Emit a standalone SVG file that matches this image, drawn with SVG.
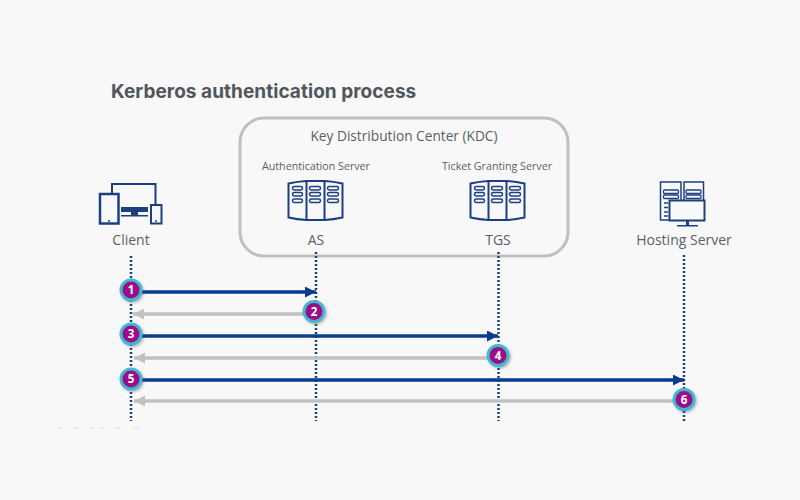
<svg xmlns="http://www.w3.org/2000/svg" width="800" height="500" viewBox="0 0 800 500">
<style>
text{font-family:"Open Sans","Noto Sans",sans-serif;fill:#5a5f63;text-anchor:middle}
.title{font-family:"Inter","Noto Sans",sans-serif;font-weight:700;font-size:19px;fill:#50565a;text-anchor:start;letter-spacing:.05px}
.l{font-size:14px}.s{font-size:10.7px}.k{font-size:13.700px}
.ic{fill:none;stroke:#1c3f80;stroke-width:2}
.ic2{fill:none;stroke:#1c3f80;stroke-width:1.5}
.life{stroke:#1f3f86;stroke-width:2.500;stroke-dasharray:2 2;fill:none}
.req{stroke:#0b3b8f;stroke-width:3.500;fill:none;marker-end:url(#ab)}
.res{stroke:#c1c1c1;stroke-width:3.500;fill:none;marker-end:url(#ag)}
.b{fill:#9c0f8a;stroke:#3fb8d0;stroke-width:3;filter:url(#sh)}
.n{font-family:"Open Sans",sans-serif;font-size:11.500px;font-weight:700;fill:#fff}
.faint{fill:#e4e4e4}
</style>
<defs>
<marker id="ab" markerUnits="userSpaceOnUse" markerWidth="12" markerHeight="12" refX="11" refY="5.500" orient="auto"><path d="M0 0L11 5.500L0 11z" fill="#0b3b8f"/></marker>
<marker id="ag" markerUnits="userSpaceOnUse" markerWidth="12" markerHeight="12" refX="11" refY="5.500" orient="auto"><path d="M0 0L11 5.500L0 11z" fill="#c1c1c1"/></marker>
<filter id="sh" x="-30%" y="-30%" width="170%" height="170%"><feDropShadow dx="1.500" dy="1.500" stdDeviation="1.300" flood-color="#555" flood-opacity=".4"/></filter>
<g id="rack">
<path class="ic" d="M-27 -17Q-18 -19 -9 -19.500H9Q18 -19 27 -17V17Q18 19 9 19.500H-9Q-18 19 -27 17Z"/>
<path class="ic" d="M-9 -19.500V19.500M9 -19.500V19.500"/>
<g class="ic2">
<rect x="-23" y="-14" width="10" height="3.500" rx="1.700"/><rect x="-23" y="-8" width="10" height="3.500" rx="1.700"/><rect x="-23" y="-1.500" width="10" height="3.500" rx="1.700"/>
<rect x="-6" y="-14" width="11" height="3.500" rx="1.700"/><rect x="-6" y="-8" width="11" height="3.500" rx="1.700"/><rect x="-6" y="-1.500" width="11" height="3.500" rx="1.700"/>
<rect x="12" y="-14" width="11" height="3.500" rx="1.700"/><rect x="12" y="-8" width="11" height="3.500" rx="1.700"/><rect x="12" y="-1.500" width="11" height="3.500" rx="1.700"/>
</g></g>
</defs>
<rect width="800" height="500" fill="#f8f8f8"/>
<text class="title" x="111" y="98">Kerberos authentication process</text>
<g id="kdc"><rect x="240" y="118" width="328" height="138" rx="24" fill="none" stroke="#bfbfbf" stroke-width="3"/><text class="k" x="404" y="141">Key Distribution Center (KDC)</text></g>
<g id="client"><path class="ic" d="M112 193V184H155.500V204"/><rect x="100" y="194" width="18.500" height="29.500" fill="#f8f8f8" stroke="#1c3f80" stroke-width="2.500"/><rect x="151" y="205" width="10.500" height="18.500" fill="#f8f8f8" stroke="#1c3f80" stroke-width="2"/><circle cx="109" cy="221" r="1" fill="#1c3f80"/><circle cx="156" cy="221" r="1" fill="#1c3f80"/><rect x="121" y="207" width="27" height="5" fill="#1c3f80"/><path d="M131 212h7v3h10v1.500h-27v-1.500h10z" fill="#1c3f80"/><text class="l" x="131" y="245">Client</text></g>
<g id="as"><text class="s" x="316" y="170">Authentication Server</text><use href="#rack" x="315.500" y="200.500"/><text class="l" x="316" y="245">AS</text></g>
<g id="tgs"><text class="s" x="497" y="170">Ticket Granting Server</text><use href="#rack" x="497.500" y="200.500"/><text class="l" x="498" y="245">TGS</text></g>
<g id="hosting"><path class="ic2" d="M669 220H660.500V182H681V200M684 200V182H703.500V200"/><g fill="none" stroke="#1c3f80" stroke-width="1.300"><rect x="663.500" y="190" width="15" height="3.500" rx="1"/><rect x="663.500" y="195" width="15" height="3.500" rx="1"/><rect x="686" y="190" width="15" height="3.500" rx="1"/><rect x="686" y="195" width="15" height="3.500" rx="1"/></g><path class="ic2" d="M664 203H668M664 207.500H668M664 212H668M664 216H668"/><rect x="669.500" y="200.500" width="35" height="20" fill="#f8f8f8" stroke="#1c3f80" stroke-width="2"/><path d="M686 221h3v4h9v1.500h-21v-1.500h9z" fill="#1c3f80"/><text class="l" x="684" y="245">Hosting Server</text></g>
<g id="connectors">
<path class="life" d="M131 256V421M316 252V421M498.500 252V421M684 255V421"/>
<path class="req" d="M131 292H316"/><path class="res" d="M316 314H133"/>
<path class="req" d="M131 336H498"/><path class="res" d="M498 358H134"/>
<path class="req" d="M131 380H684"/><path class="res" d="M684 401H134"/>
</g>
<g id="marks"><rect class="faint" x="58" y="427.500" width="4" height="1.500"/><rect class="faint" x="74" y="427.500" width="5" height="1.500"/><rect class="faint" x="90" y="427.500" width="4" height="1.500"/><rect class="faint" x="100" y="427.500" width="4" height="1.500"/><rect class="faint" x="115" y="427.500" width="5" height="1.500"/><rect class="faint" x="134" y="427.500" width="5" height="1.500"/></g>
<g id="b1"><circle class="b" cx="131" cy="290" r="10"/><text class="n" x="131" y="294">1</text></g>
<g id="b2"><circle class="b" cx="314" cy="311.500" r="10"/><text class="n" x="314" y="315.500">2</text></g>
<g id="b3"><circle class="b" cx="131" cy="334" r="10"/><text class="n" x="131" y="338">3</text></g>
<g id="b4"><circle class="b" cx="498" cy="355.500" r="10"/><text class="n" x="498" y="359.500">4</text></g>
<g id="b5"><circle class="b" cx="131" cy="379" r="10"/><text class="n" x="131" y="383">5</text></g>
<g id="b6"><circle class="b" cx="684" cy="399.500" r="10"/><text class="n" x="684" y="403.500">6</text></g>
</svg>
